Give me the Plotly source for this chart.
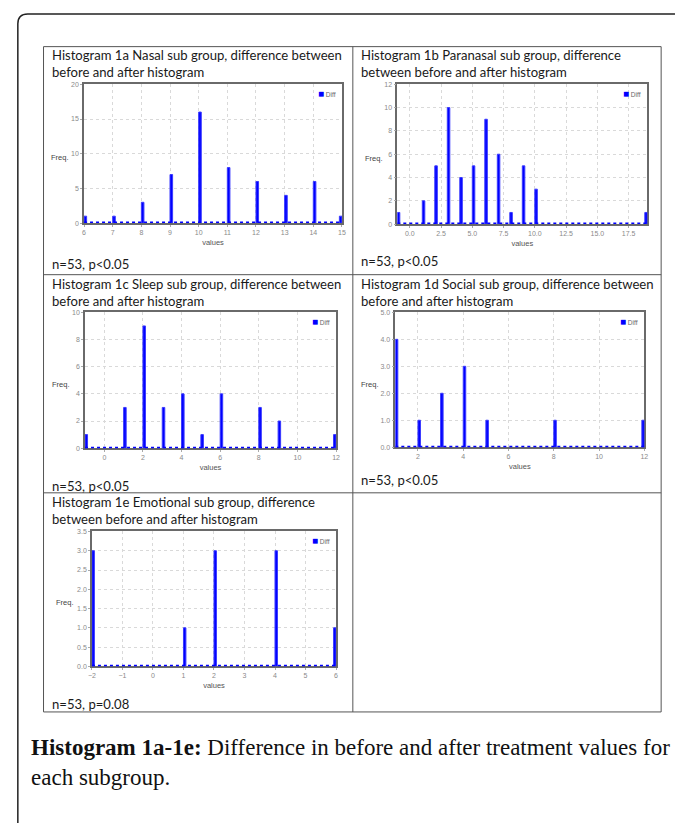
import plotly.graph_objects as go

# ---------------- data ----------------
nasal_values = [6, 7, 8, 9, 10, 11, 12, 13, 14, 15]
nasal_freq = [1, 1, 3, 7, 16, 8, 6, 4, 6, 1]

paranasal_values = [-1, 1, 2, 3, 4, 5, 6, 7, 8, 9, 10, 19]
paranasal_freq = [1, 2, 5, 10, 4, 5, 9, 6, 1, 5, 3, 1]

sleep_values = [-1, 1, 2, 3, 4, 5, 6, 8, 9, 12]
sleep_freq = [1, 3, 9, 3, 4, 1, 4, 3, 2, 1]

social_values = [1, 2, 3, 4, 5, 8, 12]
social_freq = [4, 1, 2, 3, 1, 1, 1]

emotional_values = [-2, 1, 2, 4, 6]
emotional_freq = [3, 1, 3, 3, 1]

titles = [
    "Histogram 1a Nasal sub group, difference between<br>before and after histogram",
    "Histogram 1b Paranasal sub group, difference<br>between before and after histogram",
    "Histogram 1c Sleep sub group, difference between<br>before and after histogram",
    "Histogram 1d Social sub group, difference between<br>before and after histogram",
    "Histogram 1e Emotional sub group, difference<br>between before and after histogram",
]
stats_labels = ["n=53, p<0.05", "n=53, p<0.05", "n=53, p<0.05", "n=53, p<0.05", "n=53, p=0.08"]
series_name = "Diff"
x_title = "values"
y_title = "Freq."
caption_bold = "Histogram 1a-1e:"
caption_text = " Difference in before and after treatment values for<br>each subgroup."

# ---------------- layout helpers ----------------
W, H = 678, 825


def px(x):
    return x / W


def py(y):
    return 1 - y / H


panels = [
    dict(v=nasal_values, f=nasal_freq, ymax=20, dy=5, yfmt="d", x0=None, dx=1, xfmt="d",
         box=(81, 342, 81, 221), title_xy=(47, 60), stat_xy=(47, 262), freq_xy=(68, 155)),
    dict(v=paranasal_values, f=paranasal_freq, ymax=12, dy=2, yfmt="d", x0=0, dx=2.5, xfmt=".1f",
         box=(398, 651, 81, 222), title_xy=(359, 60), stat_xy=(359, 259), freq_xy=(386, 156)),
    dict(v=sleep_values, f=sleep_freq, ymax=10, dy=2, yfmt="d", x0=0, dx=2, xfmt="d",
         box=(82, 336, 311, 448), title_xy=(47, 291), stat_xy=(47, 486), freq_xy=(69, 384)),
    dict(v=social_values, f=social_freq, ymax=5, dy=1, yfmt=".1f", x0=0, dx=2, xfmt="d",
         box=(396, 648, 311, 447), title_xy=(359, 291), stat_xy=(359, 480), freq_xy=(381, 384)),
    dict(v=emotional_values, f=emotional_freq, ymax=3.5, dy=0.5, yfmt=".1f", x0=None, dx=1, xfmt="d",
         box=(89, 336, 532, 668), title_xy=(47, 511), stat_xy=(47, 706), freq_xy=(73, 604)),
]

BLUE = "#0000ff"
TICK_FONT = dict(family="Liberation Sans, Arial, sans-serif", size=7, color="#8a8a8a")
TEXT_FONT = dict(family="Lato, Open Sans, sans-serif", size=13.1, color="#1a1a1a")

fig = go.Figure()
layout = dict(
    width=W, height=H, margin=dict(l=0, r=0, t=0, b=0),
    paper_bgcolor="white", plot_bgcolor="white", showlegend=False,
    annotations=[], shapes=[],
)

for i, p in enumerate(panels, start=1):
    sfx = "" if i == 1 else str(i)
    xmin, xmax = min(p["v"]), max(p["v"])
    w = (xmax - xmin) / 100.0
    starts = [v if v < xmax else v - w for v in p["v"]]
    fig.add_trace(go.Bar(
        x=starts, y=p["f"], width=w, offset=0, name=series_name,
        marker=dict(color=BLUE, line=dict(color="#3a3aff", width=1)),
        xaxis="x" + sfx, yaxis="y" + sfx,
    ))
    # zero-count bins drawn along the baseline
    fig.add_trace(go.Scatter(
        x=[xmin, xmax], y=[0, 0], mode="lines", name=series_name,
        line=dict(color=BLUE, width=3, dash="dot"),
        xaxis="x" + sfx, yaxis="y" + sfx, hoverinfo="skip",
    ))
    x0, x1, y0, y1 = p["box"]
    xa = dict(
        domain=[px(x0), px(x1)], anchor="y" + sfx, range=[xmin, xmax],
        dtick=p["dx"], tickformat=p["xfmt"], tickfont=TICK_FONT,
        showgrid=True, gridcolor="#d9d9d9", griddash="dot", gridwidth=1,
        showline=True, mirror=True, linecolor="#6a6a6a", linewidth=1.5,
        ticks="outside", ticklen=2, tickcolor="#aaaaaa", zeroline=False,
        layer="below traces",
        title=dict(text=x_title, font=dict(family="Liberation Sans, Arial, sans-serif", size=7.5, color="#555555"), standoff=4),
    )
    if p["x0"] is not None:
        xa["tick0"] = p["x0"]
    ya = dict(
        domain=[py(y1), py(y0)], anchor="x" + sfx, range=[0, p["ymax"]],
        dtick=p["dy"], tick0=0, tickformat=p["yfmt"], tickfont=TICK_FONT,
        showgrid=True, gridcolor="#d9d9d9", griddash="dot", gridwidth=1,
        showline=True, mirror=True, linecolor="#6a6a6a", linewidth=1.5,
        ticks="outside", ticklen=2, tickcolor="#aaaaaa", zeroline=False,
        layer="below traces",
    )
    layout["xaxis" + sfx] = xa
    layout["yaxis" + sfx] = ya

    # legend marker inside plot
    layout["annotations"].append(dict(
        xref="paper", yref="paper", x=px(x1 - 4), y=py(y0 + 9), xanchor="right", yanchor="middle",
        text="<span style='color:#0000ff;font-size:10px'>■</span> " + series_name, showarrow=False,
        font=dict(family="Liberation Sans, Arial, sans-serif", size=6.5, color="#666666"),
    ))
    # Freq. label
    layout["annotations"].append(dict(
        xref="paper", yref="paper", x=px(p["freq_xy"][0]), y=py(p["freq_xy"][1]),
        xanchor="right", yanchor="middle", text=y_title, showarrow=False,
        font=dict(family="Liberation Sans, Arial, sans-serif", size=7.5, color="#444444"),
    ))
    # title
    layout["annotations"].append(dict(
        xref="paper", yref="paper", x=px(p["title_xy"][0]), y=py(p["title_xy"][1]),
        xanchor="left", yanchor="middle", align="left", text=titles[i - 1], showarrow=False,
        font=TEXT_FONT,
    ))
    # stats
    layout["annotations"].append(dict(
        xref="paper", yref="paper", x=px(p["stat_xy"][0]), y=py(p["stat_xy"][1]),
        xanchor="left", yanchor="middle", align="left", text=stats_labels[i - 1], showarrow=False,
        font=TEXT_FONT,
    ))

# caption
layout["annotations"].append(dict(
    xref="paper", yref="paper", x=px(25), y=py(765), xanchor="left", yanchor="middle", align="left",
    text="<b>" + caption_bold + "</b>" + caption_text, showarrow=False,
    font=dict(family="Liberation Serif, Times New Roman, serif", size=23, color="#111111"),
))

# outer rounded frame
r = 10
outer = "M {} {} L {} {} Q {} {} {} {} L {} {}".format(
    px(14), py(826), px(14), py(10 + r), px(14), py(10), px(14 + r), py(10), px(679), py(10))
layout["shapes"].append(dict(type="path", xref="paper", yref="paper", path=outer,
                             line=dict(color="#222222", width=1.5)))
# table grid
TL, TR, TT, TB, TM = 40, 665, 43, 714, 353
line_style = dict(color="#555555", width=1)
layout["shapes"] += [
    dict(type="rect", xref="paper", yref="paper", x0=px(TL), x1=px(TR), y0=py(TB), y1=py(TT), line=line_style),
    dict(type="line", xref="paper", yref="paper", x0=px(TM), x1=px(TM), y0=py(TB), y1=py(TT), line=line_style),
    dict(type="line", xref="paper", yref="paper", x0=px(TL), x1=px(TR), y0=py(273), y1=py(273), line=line_style),
    dict(type="line", xref="paper", yref="paper", x0=px(TL), x1=px(TR), y0=py(493), y1=py(493), line=line_style),
]

fig.update_layout(**layout)
fig.write_html("out.html", config={"displayModeBar": False},
               post_script="document.body.style.margin='0';")
